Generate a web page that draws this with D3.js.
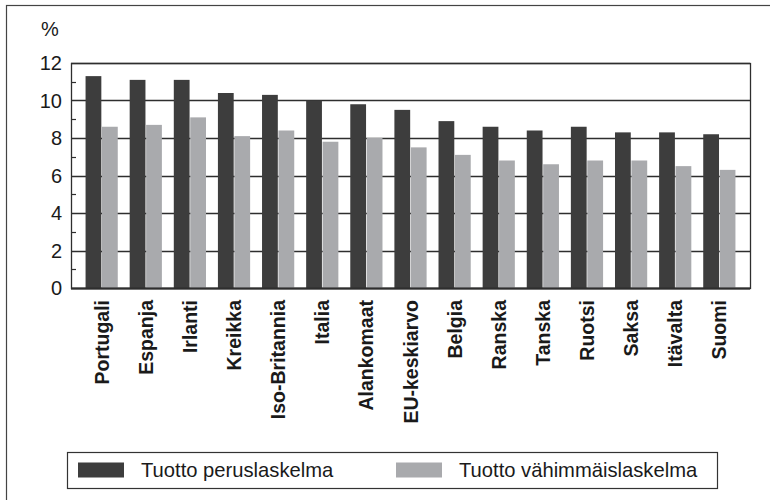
<!DOCTYPE html>
<html>
<head>
<meta charset="utf-8">
<script src="https://cdn.jsdelivr.net/npm/d3@7"></script>
<style>
  body { margin: 0; background: #fff; }
  svg { display: block; font-family: "Liberation Sans", Arial, sans-serif; }
  .tick-label { font-size: 20px; fill: #1a1a1a; }
  .cat-label { font-size: 19.5px; font-weight: bold; fill: #1a1a1a; }
  .legend-label { font-size: 20.2px; fill: #1a1a1a; }
</style>
</head>
<body>
<div id="graphic"></div>
<script>
(function(d3){

    // Canvas size
    let width = 770, height = 500;

    // Plot area
    let left = 71, right = 750, top = 63, bottom = 288;

    // Data
    let countries = ['Portugali', 'Espanja', 'Irlanti', 'Kreikka', 'Iso-Britannia', 'Italia',
        'Alankomaat', 'EU-keskiarvo', 'Belgia', 'Ranska', 'Tanska', 'Ruotsi', 'Saksa', 'Itävalta', 'Suomi'];
    let perus = [11.3, 11.1, 11.1, 10.4, 10.3, 10.0, 9.8, 9.5, 8.9, 8.6, 8.4, 8.6, 8.3, 8.3, 8.2];
    let vahimmais = [8.6, 8.7, 9.1, 8.1, 8.4, 7.8, 8.0, 7.5, 7.1, 6.8, 6.6, 6.8, 6.8, 6.5, 6.3];
    let seriesNames = ['Tuotto peruslaskelma', 'Tuotto vähimmäislaskelma'];
    let yTicks = [0, 2, 4, 6, 8, 10, 12];
    let yMinorTicks = [1, 3, 5, 7, 9, 11];

    let colors = ['#3d3d3d', '#a9aaad'];
    let lineColor = '#2e2e2e';

    let svg = d3.select('#graphic')
                .append('svg')
                .attr('width', width)
                .attr('height', height);

    // Outer frame (runs off the right and bottom of the picture)
    svg.append('rect')
       .attr('x', 6.5).attr('y', 5.5)
       .attr('width', 900).attr('height', 700)
       .attr('fill', 'none')
       .attr('stroke', '#444')
       .attr('stroke-width', 1.2);

    let x = d3.scaleBand()
        .domain(countries)
        .range([left, right])
        .paddingInner(0.27)
        .paddingOuter(0.33);

    let xSub = d3.scaleBand()
        .domain([0, 1])
        .range([0, x.bandwidth()])
        .paddingInner(0.04);

    let y = d3.scaleLinear()
        .domain([0, 12])
        .range([bottom, top]);

    // Gridlines at the major ticks
    svg.append('g')
       .selectAll('line')
       .data(yTicks)
       .join('line')
       .attr('x1', left).attr('x2', right)
       .attr('y1', d => Math.round(y(d)) + 0.5)
       .attr('y2', d => Math.round(y(d)) + 0.5)
       .attr('stroke', lineColor)
       .attr('stroke-width', 1.3);

    // Minor ticks, pointing into the plot
    svg.append('g')
       .selectAll('line')
       .data(yMinorTicks)
       .join('line')
       .attr('x1', left).attr('x2', left + 5)
       .attr('y1', d => Math.round(y(d)) + 0.5)
       .attr('y2', d => Math.round(y(d)) + 0.5)
       .attr('stroke', lineColor)
       .attr('stroke-width', 1.2);

    // Bars
    let rows = countries.map((c, i) => ({ country: c, values: [perus[i], vahimmais[i]] }));

    let groups = svg.append('g')
        .selectAll('g')
        .data(rows)
        .join('g')
        .attr('transform', d => `translate(${x(d.country)},0)`);

    groups.selectAll('rect')
        .data(d => d.values.map((v, k) => ({ k: k, v: v })))
        .join('rect')
        .attr('x', d => xSub(d.k))
        .attr('width', xSub.bandwidth())
        .attr('y', d => y(d.v))
        .attr('height', d => y(0) - y(d.v))
        .attr('fill', d => colors[d.k]);

    // Plot box: left, right, top and baseline
    svg.append('rect')
       .attr('x', left + 0.5).attr('y', Math.round(top) + 0.5)
       .attr('width', right - left).attr('height', bottom - top)
       .attr('fill', 'none')
       .attr('stroke', lineColor)
       .attr('stroke-width', 1.3);
    svg.append('line')
       .attr('x1', left).attr('x2', right)
       .attr('y1', bottom + 0.5).attr('y2', bottom + 0.5)
       .attr('stroke', lineColor)
       .attr('stroke-width', 2);

    // Y tick labels
    svg.append('g')
       .selectAll('text')
       .data(yTicks)
       .join('text')
       .attr('class', 'tick-label')
       .attr('x', 62)
       .attr('y', d => y(d) + 7)
       .attr('text-anchor', 'end')
       .text(d => d);

    svg.append('text')
       .attr('class', 'tick-label')
       .attr('x', 41)
       .attr('y', 36)
       .text('%');

    // Category labels, rotated
    svg.append('g')
       .selectAll('text')
       .data(countries)
       .join('text')
       .attr('class', 'cat-label')
       .attr('text-anchor', 'end')
       .attr('transform', d => `translate(${x(d) + x.bandwidth() / 2 + 7},300) rotate(-90)`)
       .text(d => d);

    // Legend
    let legend = svg.append('g');
    legend.append('rect')
       .attr('x', 67.5).attr('y', 452.5)
       .attr('width', 650).attr('height', 36)
       .attr('fill', 'none')
       .attr('stroke', '#333')
       .attr('stroke-width', 1.2);

    let legendX = [78, 396];
    seriesNames.forEach((name, k) => {
        legend.append('rect')
           .attr('x', legendX[k]).attr('y', 462.5)
           .attr('width', 46).attr('height', 15)
           .attr('fill', colors[k]);
        legend.append('text')
           .attr('class', 'legend-label')
           .attr('x', legendX[k] + 63)
           .attr('y', 477)
           .text(name);
    });

})(window.d3);
</script>
</body>
</html>
